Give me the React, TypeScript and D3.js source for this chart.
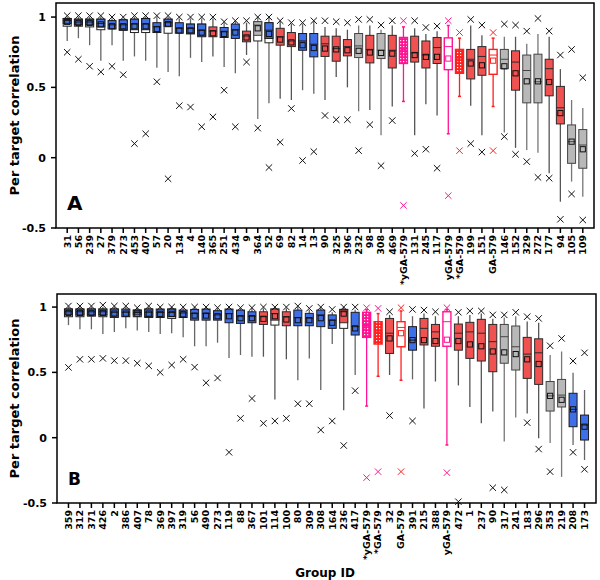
import React from "react";
import * as d3 from "d3";

// panel A
const idsA = ["31","56","239","27","379","273","453","407","57","20","134","4","140","365","251","434","9","364","52","69","82","14","13","90","325","396","232","98","308","469","*yGA-579","131","245","117","yGA-579","*GA-579","199","151","GA-579","146","152","329","272","177","94","105","109"];
const typesA = ["b","b","b","b","b","b","b","b","b","b","b","b","b","r","b","b","r","g","b","r","r","b","b","r","r","r","g","r","g","r","ph","r","r","r","po","rh","r","r","ro","g","r","g","g","r","r","g","g"];
const maxA = [1.01,1.01,1.01,1.01,1.0,1.0,1.01,1.01,1.01,1.01,1.0,1.0,1.0,1.0,0.967,0.974,0.974,1.0,1.0,0.974,0.96,0.96,0.974,0.974,0.967,0.96,0.983,0.983,0.943,0.974,0.974,0.974,0.926,0.936,0.974,0.89,0.983,0.943,0.89,0.95,0.943,0.9,0.99,0.9,0.73,0.77,0.569];
const whiA = [1.0,1.0,1.0,1.0,0.99,0.99,1.0,1.0,1.0,1.0,0.99,0.99,0.99,0.99,0.96,0.97,0.96,1.0,1.0,0.97,0.95,0.95,0.97,0.93,0.92,0.91,0.94,0.94,0.91,0.94,0.93,0.92,0.88,0.9,0.94,0.85,0.94,0.87,0.85,0.86,0.86,0.81,0.88,0.86,0.63,0.41,0.353];
const q3A = [0.99,0.985,0.985,0.985,0.975,0.98,0.985,0.99,0.96,0.985,0.96,0.95,0.95,0.93,0.926,0.95,0.9,0.967,0.96,0.92,0.89,0.883,0.883,0.864,0.864,0.84,0.883,0.87,0.883,0.87,0.855,0.864,0.83,0.855,0.852,0.77,0.77,0.79,0.77,0.77,0.76,0.73,0.736,0.7,0.507,0.233,0.2];
const medA = [0.975,0.965,0.965,0.955,0.945,0.945,0.95,0.95,0.93,0.96,0.92,0.92,0.905,0.9,0.895,0.91,0.865,0.943,0.907,0.86,0.83,0.83,0.807,0.81,0.776,0.79,0.795,0.77,0.764,0.764,0.78,0.745,0.73,0.783,0.79,0.72,0.7,0.72,0.73,0.7,0.68,0.62,0.54,0.633,0.355,0.114,0.09];
const meanA = [0.965,0.958,0.958,0.948,0.935,0.935,0.935,0.935,0.915,0.95,0.905,0.905,0.89,0.885,0.88,0.89,0.855,0.92,0.88,0.84,0.82,0.8,0.78,0.776,0.77,0.764,0.76,0.748,0.745,0.74,0.75,0.73,0.717,0.717,0.705,0.69,0.67,0.657,0.69,0.65,0.6,0.543,0.543,0.538,0.317,0.114,0.06];
const q1A = [0.955,0.948,0.945,0.93,0.915,0.91,0.91,0.91,0.89,0.935,0.885,0.885,0.865,0.86,0.855,0.848,0.824,0.87,0.848,0.8,0.79,0.764,0.717,0.72,0.686,0.724,0.712,0.674,0.705,0.638,0.67,0.68,0.638,0.67,0.626,0.6,0.56,0.586,0.593,0.633,0.48,0.39,0.39,0.44,0.24,-0.04,-0.075];
const backA = [0.935,0.935,0.93,0.91,0.915,0.905,0.89,0.89,0.89,0.885,0.885,0.88,0.86,0.86,0.855,0.848,0.824,0.83,0.817,0.8,0.79,0.764,0.717,0.72,0.686,0.724,0.712,0.674,0.705,0.638,0.67,0.68,0.638,0.67,0.626,0.6,0.56,0.586,0.593,0.633,0.48,0.39,0.39,0.44,0.24,-0.04,-0.075];
const wloA = [0.83,0.85,0.8,0.69,0.8,0.69,0.72,0.69,0.64,0.61,0.58,0.71,0.68,0.72,0.645,0.6,0.73,0.276,0.388,0.42,0.41,0.48,0.455,0.41,0.574,0.5,0.33,0.34,0.16,0.364,0.4,0.16,0.38,0.3,0.17,0.436,0.37,0.16,0.364,0.18,0.07,0.055,0.036,-0.11,-0.313,-0.17,-0.277];
const minA = [0.75,0.7,0.65,0.61,0.65,0.59,0.1,0.17,0.54,-0.15,0.37,0.36,0.22,0.29,0.48,0.22,0.68,0.21,-0.07,0.11,0.35,-0.02,0.043,0.3,0.27,0.27,0.05,0.235,-0.057,0.264,-0.339,0.03,0.06,-0.075,-0.27,0.05,0.1,0.04,0.05,0.15,0.024,-0.028,-0.14,-0.146,-0.438,-0.258,-0.443];

// panel B
const idsB = ["359","312","371","426","2","386","407","78","369","397","319","56","490","273","119","88","367","101","114","100","80","309","308","164","236","417","*yGA-579","*GA-579","32","GA-579","391","215","388","yGA-579","472","1","237","90","317","241","183","296","353","219","208","173"];
const typesB = ["b","b","b","b","b","b","b","b","b","b","b","b","b","b","b","b","b","r","r","r","b","b","b","b","r","b","ph","rhp","r","ro","b","r","r","po","r","r","r","r","g","g","r","r","g","g","b","b"];
const maxB = [1.008,1.008,1.008,1.015,1.008,1.008,0.995,1.008,1.0,1.0,1.0,1.0,1.0,0.995,1.0,0.995,0.995,1.0,1.0,1.0,1.008,0.99,1.0,0.982,1.0,1.0,0.995,0.99,0.964,0.995,0.982,0.977,0.964,0.995,0.96,0.97,0.97,0.94,0.94,0.96,0.926,0.913,0.704,0.76,0.587,0.65];
const whiB = [1.0,1.0,1.0,1.0,1.0,1.0,0.99,1.0,1.0,1.0,0.99,1.0,1.0,0.99,1.0,0.99,0.99,0.99,1.0,0.99,1.0,0.98,1.0,0.96,1.0,0.98,0.98,0.95,0.94,0.97,0.93,0.95,0.93,0.98,0.93,0.94,0.95,0.91,0.92,0.93,0.89,0.88,0.633,0.66,0.497,0.365];
const q3B = [0.985,0.985,0.985,0.985,0.985,0.985,0.977,0.985,0.985,0.985,0.977,0.982,0.985,0.972,0.985,0.977,0.964,0.964,0.985,0.964,0.977,0.952,0.977,0.94,0.982,0.96,0.96,0.888,0.913,0.888,0.85,0.913,0.867,0.964,0.87,0.883,0.906,0.867,0.867,0.855,0.768,0.757,0.43,0.446,0.34,0.173];
const medB = [0.964,0.964,0.964,0.964,0.96,0.96,0.958,0.96,0.958,0.958,0.955,0.95,0.95,0.94,0.95,0.93,0.93,0.926,0.95,0.926,0.918,0.915,0.94,0.9,0.964,0.85,0.86,0.81,0.8,0.844,0.747,0.837,0.81,0.888,0.8,0.81,0.8,0.735,0.773,0.696,0.64,0.65,0.32,0.326,0.217,0.097];
const meanB = [0.955,0.955,0.955,0.955,0.95,0.95,0.95,0.95,0.948,0.948,0.945,0.935,0.935,0.93,0.93,0.915,0.915,0.91,0.93,0.905,0.9,0.9,0.915,0.88,0.95,0.837,0.84,0.78,0.76,0.8,0.747,0.747,0.74,0.75,0.74,0.714,0.7,0.66,0.653,0.64,0.6,0.564,0.32,0.29,0.217,0.084];
const q1B = [0.944,0.94,0.94,0.94,0.93,0.926,0.94,0.926,0.92,0.926,0.92,0.9,0.9,0.9,0.88,0.875,0.88,0.867,0.9,0.857,0.857,0.857,0.85,0.837,0.88,0.786,0.768,0.717,0.645,0.696,0.67,0.71,0.7,0.7,0.67,0.607,0.587,0.505,0.57,0.518,0.454,0.408,0.204,0.235,0.084,-0.018];
const backB = [0.926,0.926,0.93,0.926,0.92,0.926,0.926,0.92,0.92,0.913,0.92,0.9,0.9,0.9,0.88,0.875,0.88,0.867,0.862,0.857,0.857,0.857,0.85,0.837,0.837,0.786,0.768,0.717,0.645,0.696,0.67,0.71,0.7,0.7,0.67,0.607,0.587,0.505,0.57,0.518,0.454,0.408,0.204,0.235,0.084,-0.018];
const wloB = [0.862,0.83,0.83,0.794,0.81,0.837,0.82,0.81,0.794,0.8,0.768,0.7,0.7,0.727,0.61,0.633,0.62,0.62,0.293,0.6,0.44,0.607,0.365,0.717,0.21,0.48,0.242,0.47,0.48,0.44,0.446,0.224,0.43,-0.056,0.4,0.235,0.11,0.2,-0.03,0.155,0.186,-0.005,-0.04,-0.3,-0.056,-0.171];
const minB = [0.538,0.6,0.6,0.607,0.59,0.59,0.57,0.55,0.5,0.556,0.6,0.54,0.42,0.457,-0.112,0.148,0.3,0.11,0.128,0.148,0.26,0.26,0.059,0.128,-0.06,0.36,-0.306,-0.26,0.17,-0.26,0.128,NaN,NaN,-0.268,-0.49,NaN,NaN,-0.383,-0.4,NaN,0.115,-0.087,-0.26,NaN,-0.112,-0.242];

const yTicks = [-0.5, 0, 0.5, 1];

const fills: Record<string, string> = {
  b: "#3f6fe6", r: "#f05252", g: "#b8b8b8",
  ph: "url(#hatchPink)", rh: "url(#hatchRed)", rhp: "url(#hatchRed)",
  po: "#fff", ro: "#fff",
};
const edges: Record<string, string> = {
  b: "#1a1a1a", r: "#2a2a2a", g: "#444",
  ph: "#ff1493", po: "#ff1493", rh: "#ff2020", rhp: "#ff2020", ro: "#ff2020",
};
const whisk: Record<string, string> = {
  b: "#666", r: "#555", g: "#777",
  ph: "#ff1493", po: "#ff1493", rh: "#ff2020", rhp: "#ff2020", ro: "#ff2020",
};
const marks: Record<string, string> = {
  b: "#111", r: "#111", g: "#111",
  ph: "#ff1493", po: "#ff1493", rh: "#ff2020", rhp: "#ff1493", ro: "#ff2020",
};

const font = "DejaVu Sans, Verdana, sans-serif";

function Cross({ cx, cy, color }: { cx: number; cy: number; color: string }) {
  const s = 3.2;
  return (
    <path
      d={`M${cx - s},${cy - s}L${cx + s},${cy + s}M${cx - s},${cy + s}L${cx + s},${cy - s}`}
      stroke={color}
      strokeWidth={1}
      fill="none"
    />
  );
}

function Panel(props: any) {
  const { ids, types, mx, whi, q3, med, mean, q1, back, wlo, mn, left, right, top, bottom, letter, letterSize } = props;
  const x = d3.scaleLinear().domain([0, ids.length + 1]).range([left, right]);
  const y = d3.scaleLinear().domain([-0.5, 1.1]).range([bottom, top]);
  const hw = 4;

  return (
    <g>
      {ids.map((id: string, i: number) => {
        const cx = x(i + 1);
        const t = types[i];
        const capped = t !== "b" && t !== "r" && t !== "g";
        return (
          <g key={i}>
            <line x1={cx} x2={cx} y1={y(whi[i])} y2={y(wlo[i])} stroke={whisk[t]} strokeWidth={1.3} />
            {capped && (
              <g stroke={whisk[t]} strokeWidth={1.5}>
                <line x1={cx - 1.5} x2={cx + 1.5} y1={y(whi[i])} y2={y(whi[i])} />
                <line x1={cx - 1.5} x2={cx + 1.5} y1={y(wlo[i])} y2={y(wlo[i])} />
              </g>
            )}
            {back[i] < q1[i] - 0.002 && (
              <rect x={cx - hw} width={hw * 2} y={y(q3[i])} height={y(back[i]) - y(q3[i])} fill="#fff" stroke="#222" strokeWidth={1} />
            )}
            <rect
              x={cx - hw}
              width={hw * 2}
              y={y(q3[i])}
              height={y(q1[i]) - y(q3[i])}
              fill={fills[t]}
              stroke={edges[t]}
              strokeWidth={capped ? 1.4 : 1}
            />
            <line x1={cx - hw} x2={cx + hw} y1={y(med[i])} y2={y(med[i])} stroke={edges[t]} strokeWidth={1} />
            <rect x={cx - 2.6} y={y(mean[i]) - 2.6} width={5.2} height={5.2} fill="none" stroke={capped ? edges[t] : "#111"} strokeWidth={1} />
            <Cross cx={cx} cy={y(mx[i])} color={marks[t]} />
            {!isNaN(mn[i]) && <Cross cx={cx} cy={y(mn[i])} color={marks[t]} />}
          </g>
        );
      })}

      <rect x={left} y={top} width={right - left} height={bottom - top} fill="none" stroke="#000" strokeWidth={1.5} />

      {yTicks.map((v) => (
        <g key={v}>
          <line x1={left - 5} x2={left} y1={y(v)} y2={y(v)} stroke="#000" strokeWidth={1.5} />
          <text x={left - 10} y={y(v)} dy="0.35em" textAnchor="end" fontSize={11} fontWeight="bold" fontFamily={font}>
            {v === 0.5 ? "0.5" : v === -0.5 ? "-0.5" : String(v)}
          </text>
        </g>
      ))}

      {ids.map((id: string, i: number) => (
        <g key={"t" + i}>
          <line x1={x(i + 1)} x2={x(i + 1)} y1={bottom} y2={bottom + 5} stroke="#000" strokeWidth={1.5} />
          <text
            transform={`translate(${x(i + 1)},${bottom + 7}) rotate(-90)`}
            dy="0.35em"
            textAnchor="end"
            fontSize={9.5}
            fontWeight="bold"
            fontFamily={font}
          >
            {id}
          </text>
        </g>
      ))}

      <text
        transform={`translate(14,${(top + bottom) / 2}) rotate(-90)`}
        textAnchor="middle"
        dy="0.35em"
        fontSize={13}
        fontWeight="bold"
        fontFamily={font}
      >
        Per target correlation
      </text>

      <text x={left + 11} y={bottom - 18} fontSize={letterSize} fontWeight="bold" fontFamily={font}>
        {letter}
      </text>
    </g>
  );
}

export default function App() {
  return (
    <svg width={600} height={580} style={{ position: "absolute", left: 0, top: 0, background: "#fff" }}>
      <defs>
        <pattern id="hatchPink" width={3} height={3} patternUnits="userSpaceOnUse">
          <rect width={3} height={3} fill="#ff1493" />
          <rect x={1} y={1} width={1.2} height={1.2} fill="#fff" />
        </pattern>
        <pattern id="hatchRed" width={3} height={3} patternUnits="userSpaceOnUse">
          <rect width={3} height={3} fill="#ff2020" />
          <rect x={1} y={1} width={1.2} height={1.2} fill="#fff" />
        </pattern>
      </defs>
      <Panel
        ids={idsA} types={typesA} mx={maxA} whi={whiA} q3={q3A} med={medA} mean={meanA}
        q1={q1A} back={backA} wlo={wloA} mn={minA}
        left={56} right={594} top={3} bottom={228} letter="A" letterSize={20}
      />
      <Panel
        ids={idsB} types={typesB} mx={maxB} whi={whiB} q3={q3B} med={medB} mean={meanB}
        q1={q1B} back={backB} wlo={wloB} mn={minB}
        left={57} right={596} top={294} bottom={503} letter="B" letterSize={17}
      />
      <text x={325} y={577} textAnchor="middle" fontSize={12} fontWeight="bold" fontFamily={font}>
        Group ID
      </text>
    </svg>
  );
}
